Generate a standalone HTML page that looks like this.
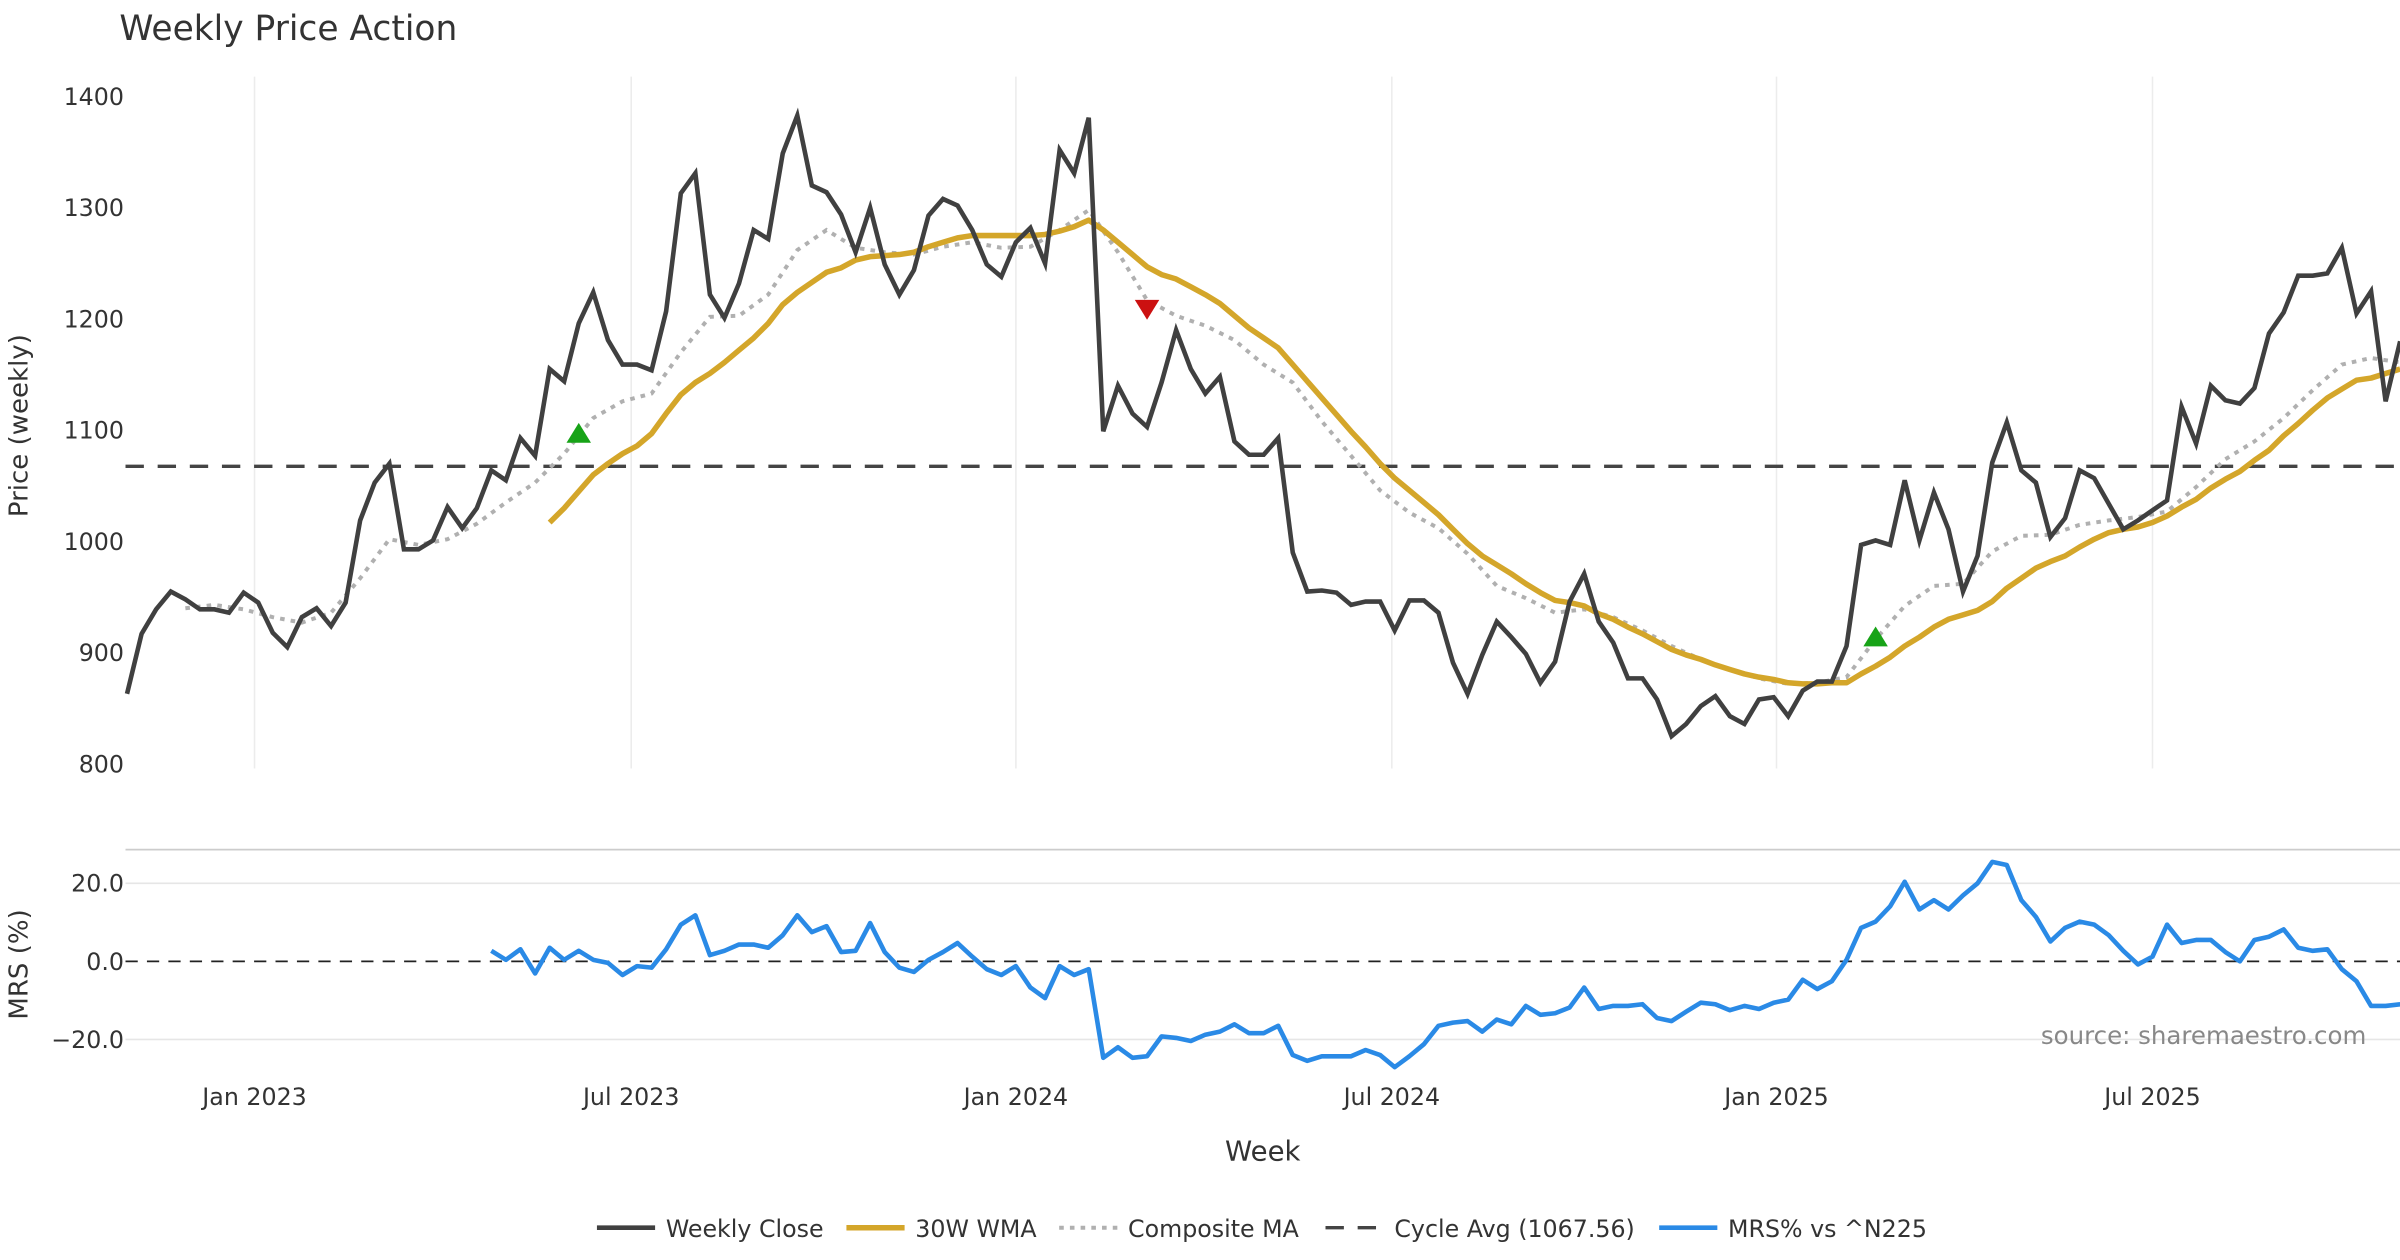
<!DOCTYPE html>
<html><head><meta charset="utf-8"><style>
html,body{margin:0;padding:0;background:#fff;}
svg{display:block;font-family:"DejaVu Sans","Liberation Sans",sans-serif;}
</style></head><body>
<svg id="chart" width="2400" height="1260" viewBox="0 0 1568 823" xmlns="http://www.w3.org/2000/svg">
<rect x="0" y="0" width="1568" height="823" fill="#fff"/>
<text x="78" y="26" font-size="22.5" fill="#333">Weekly Price Action</text>
<g id="price-grid"></g>
<g id="mrs-grid"></g>
<g id="series"></g>
<g id="axes"></g>
<text transform="translate(18,278) rotate(-90)" text-anchor="middle" font-size="17" fill="#333">Price (weekly)</text>
<text transform="translate(18,630) rotate(-90)" text-anchor="middle" font-size="17" fill="#333">MRS (%)</text>
<text x="825" y="758" text-anchor="middle" font-size="18" fill="#333">Week</text>
<text x="1546" y="682" text-anchor="end" font-size="16" fill="#888">source: sharemaestro.com</text>
<g id="legend"></g>
</svg>
<script>
const closeValues=[863,917,939,955,948,939,939,936,954,945,918,905,932,940,924,945,1019,1053,1070,993,993,1001,1031,1012,1030,1064,1055,1093,1077,1155,1144,1196,1224,1181,1159,1159,1154,1207,1313,1331,1222,1201,1232,1280,1272,1349,1383,1320,1314,1294,1260,1300,1249,1222,1244,1293,1308,1302,1280,1249,1238,1269,1282,1250,1352,1331,1381,1099,1140,1115,1103,1143,1190,1155,1133,1148,1090,1078,1078,1093,990,955,956,954,943,946,946,920,947,947,936,891,863,898,928,914,899,873,892,946,971,928,909,877,877,858,825,836,852,861,843,836,858,860,843,866,874,874,906,997,1001,997,1055,1001,1044,1011,955,987,1071,1107,1064,1053,1004,1021,1064,1057,1034,1011,1019,1028,1037,1121,1088,1140,1127,1124,1138,1187,1206,1239,1239,1241,1264,1205,1225,1126,1180];
const wmaStart=29;
const wmaValues=[1017,1030,1045,1060,1070,1079,1086,1097,1115,1132,1143,1151,1161,1172,1183,1196,1213,1224,1233,1242,1246,1253,1256,1257,1258,1260,1265,1269,1273,1275,1275,1275,1275,1275,1276,1279,1283,1289,1280,1269,1258,1247,1240,1236,1229,1222,1214,1203,1192,1183,1174,1159,1144,1129,1114,1099,1085,1070,1057,1046,1035,1024,1011,998,987,979,971,962,954,947,945,942,935,930,923,917,910,903,898,894,889,885,881,878,876,873,872,872,873,873,881,888,896,906,914,923,930,934,938,946,958,967,976,982,987,995,1002,1008,1011,1013,1017,1023,1031,1038,1048,1056,1063,1073,1082,1095,1106,1118,1129,1137,1145,1147,1151,1155];
const compStart=4;
const compStep=2;
const compValues=[940,943,939,932,927,936,967,1002,997,1002,1016,1035,1053,1079,1111,1126,1133,1170,1202,1203,1222,1262,1280,1264,1260,1258,1265,1269,1264,1265,1280,1298,1260,1217,1203,1194,1181,1159,1143,1108,1077,1046,1026,1012,989,960,949,936,939,932,920,906,894,885,877,872,873,878,912,942,960,962,991,1005,1006,1015,1019,1022,1027,1049,1074,1090,1111,1136,1159,1165,1161];
const cycleAvg=1067.56;
const mrsStart=25;
const mrsValues=[2.7,0.4,3.1,-3.1,3.5,0.4,2.7,0.4,-0.4,-3.5,-1.2,-1.6,3.1,9.4,11.8,1.6,2.7,4.3,4.3,3.5,6.7,11.8,7.5,9.0,2.4,2.7,9.8,2.4,-1.6,-2.7,0.4,2.4,4.7,1.2,-2.0,-3.5,-1.2,-6.7,-9.4,-1.2,-3.5,-2.0,-24.7,-22.0,-24.7,-24.3,-19.2,-19.6,-20.4,-18.8,-18.0,-16.1,-18.4,-18.4,-16.5,-24.0,-25.5,-24.3,-24.3,-24.3,-22.7,-24.0,-27.1,-24.3,-21.2,-16.5,-15.7,-15.3,-18.0,-14.9,-16.1,-11.4,-13.7,-13.3,-11.8,-6.7,-12.2,-11.4,-11.4,-11.0,-14.5,-15.3,-12.9,-10.6,-11.0,-12.5,-11.4,-12.2,-10.6,-9.8,-4.7,-7.1,-5.1,0.4,8.6,10.2,14.1,20.4,13.3,15.7,13.3,16.9,20.0,25.5,24.7,15.7,11.4,5.1,8.6,10.2,9.4,6.7,2.7,-0.8,1.2,9.4,4.7,5.5,5.5,2.4,0,5.5,6.3,8.2,3.5,2.7,3.1,-2.0,-5.1,-11.4,-11.4,-11.0];
const buySignalIdx=[31,120];
const buySignalVals=[1097,914];
const sellSignalIdx=[70];
const sellSignalVals=[1209];
const priceTicks=[800,900,1000,1100,1200,1300,1400];
const mrsTicks=[20,0,-20];
const mrsTickLabels=["20.0","0.0","\u221220.0"];
const xTickIdx=[8.75,34.6,61,86.8,113.2,139];
const xTickLabels=["Jan 2023","Jul 2023","Jan 2024","Jul 2024","Jan 2025","Jul 2025"];

const NS="http://www.w3.org/2000/svg";
const X0=83, STEP=9.52;
function xOf(i){return X0+i*STEP;}
function yP(v){return 63+(1400-v)*0.7267;}
function yM(v){return 628-v*2.55;}
function mk(tag,attrs,parent){const e=document.createElementNS(NS,tag);for(const k in attrs)e.setAttribute(k,attrs[k]);parent.appendChild(e);return e;}
const pg=document.getElementById('price-grid'),mg=document.getElementById('mrs-grid'),sg=document.getElementById('series'),ax=document.getElementById('axes');

xTickIdx.forEach((t,k)=>{
  const l=mk('line',{x1:xOf(t),x2:xOf(t),y1:50,y2:502,stroke:'#ececec','stroke-width':1},pg);
  
  
  const tx=mk('text',{x:xOf(t),y:722,'text-anchor':'middle','font-size':15.5,fill:'#333'},ax);
  tx.textContent=xTickLabels[k];
  
  
});
priceTicks.forEach(v=>{
  const tx=mk('text',{x:81,y:yP(v)+5.5,'text-anchor':'end','font-size':15.5,fill:'#333'},ax);
  tx.textContent=v;
  
  
});
const sep=mk('line',{x1:82,x2:1568,y1:555,y2:555,stroke:'#cccccc','stroke-width':1.2},mg);


mrsTicks.forEach((v,k)=>{
  if(v!==0){
    const g=mk('line',{x1:82,x2:1568,y1:yM(v),y2:yM(v),stroke:'#e6e6e6','stroke-width':1},mg);
    
    
  }
  const tx=mk('text',{x:81,y:yM(v)+5.5,'text-anchor':'end','font-size':15.5,fill:'#333'},ax);
  tx.textContent=mrsTickLabels[k];
  
  
});
const zl=mk('line',{x1:82,x2:1568,y1:yM(0),y2:yM(0),stroke:'#222','stroke-width':1.2,'stroke-dasharray':'8,6'},mg);



const ca=mk('line',{x1:82,x2:1568,y1:yP(cycleAvg),y2:yP(cycleAvg),stroke:'#444','stroke-width':2.2,'stroke-dasharray':'12,9'},sg);



function poly(vals,start,step,yf){return vals.map((v,k)=>xOf(start+k*step).toFixed(1)+','+yf(v).toFixed(1)).join(' ');}
const comp=mk('polyline',{points:poly(compValues,compStart,compStep,yP),fill:'none',stroke:'#b0b0b0','stroke-width':2.6,'stroke-dasharray':'3,4'},sg);


const wma=mk('polyline',{points:poly(wmaValues,wmaStart,1,yP),fill:'none',stroke:'#d4a62a','stroke-width':3.6,'stroke-linejoin':'round'},sg);


const cl=mk('polyline',{points:poly(closeValues,0,1,yP),fill:'none',stroke:'#404040','stroke-width':3,'stroke-linejoin':'miter'},sg);


const mrs=mk('polyline',{points:poly(mrsValues,mrsStart,1,yM),fill:'none',stroke:'#2a8ae6','stroke-width':3,'stroke-linejoin':'round'},sg);



buySignalIdx.forEach((i,k)=>{
  const x=xOf(i),y=yP(buySignalVals[k]);
  const t=mk('polygon',{points:`${x-8},${y+6} ${x+8},${y+6} ${x},${y-7}`,fill:'#17a317'},sg);
  
  
});
sellSignalIdx.forEach((i,k)=>{
  const x=xOf(i),y=yP(sellSignalVals[k]);
  const t=mk('polygon',{points:`${x-8},${y-6} ${x+8},${y-6} ${x},${y+7}`,fill:'#cc1111'},sg);
  
  
});

const lg=document.getElementById('legend');
const items=[
 {x:390,label:'Weekly Close',stroke:'#404040',w:3,dash:null,name:'legend-weekly-close'},
 {x:553,label:'30W WMA',stroke:'#d4a62a',w:3.6,dash:null,name:'legend-wma'},
 {x:692,label:'Composite MA',stroke:'#b0b0b0',w:2.6,dash:'3,4',name:'legend-composite-ma'},
 {x:866,label:'Cycle Avg (1067.56)',stroke:'#444',w:2.2,dash:'12,9',name:'legend-cycle-avg'},
 {x:1084,label:'MRS% vs ^N225',stroke:'#2a8ae6',w:3,dash:null,name:'legend-mrs'}
];
items.forEach(it=>{
  const g=mk('g',{},lg);
  
  
  const a={x1:it.x,x2:it.x+38,y1:802,y2:802,stroke:it.stroke,'stroke-width':it.w};
  if(it.dash)a['stroke-dasharray']=it.dash;
  mk('line',a,g);
  const t=mk('text',{x:it.x+45,y:808,'font-size':15.5,fill:'#333'},g);
  t.textContent=it.label;
});
</script>
</body></html>
